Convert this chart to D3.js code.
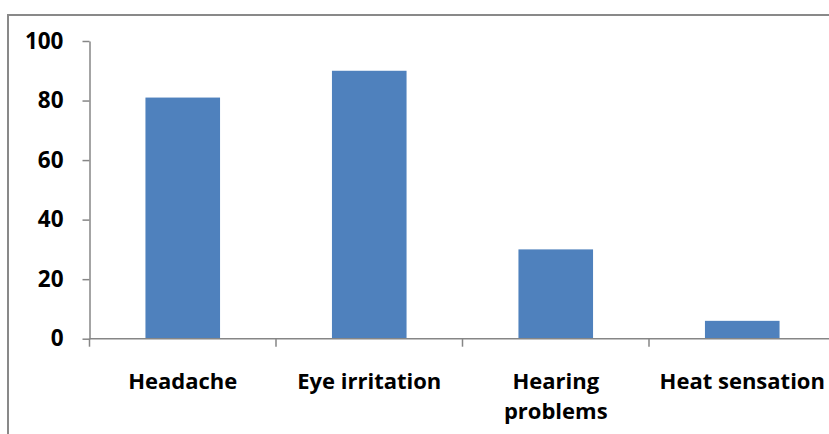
<!DOCTYPE html>
<html>
<head>
<meta charset="utf-8">
<script src="https://cdn.jsdelivr.net/npm/d3@7"></script>
<style>
  html, body { margin: 0; padding: 0; background: #fff; }
  svg { display: block; }
</style>
</head>
<body>
<svg id="chart" width="829" height="434"></svg>
<script>
// Symptom counts
const categories = ["Headache", "Eye irritation", "Hearing problems", "Heat sensation"];
const values = [81, 90, 30, 6];
const yTicks = [0, 20, 40, 60, 80, 100];
// Category labels broken into display lines
const labelLines = [["Headache"], ["Eye irritation"], ["Hearing", "problems"], ["Heat sensation"]];

const svg = d3.select("#chart");
const axisColor = "#868686";
const barColor = "#4f81bd";
const font = "'Open Sans', 'Liberation Sans', sans-serif";

// Outer frame of the chart area
svg.append("rect")
  .attr("x", 8).attr("y", 15)
  .attr("width", 840).attr("height", 440)
  .attr("fill", "none")
  .attr("stroke", "#898989")
  .attr("stroke-width", 2);

const plot = { left: 89.5, right: 835.5, top: 41, bottom: 338.7 };

const x = d3.scaleBand()
  .domain(categories)
  .range([plot.left, plot.right])
  .paddingInner(0.6)
  .paddingOuter(0.3);

const y = d3.scaleLinear()
  .domain([0, 100])
  .range([plot.bottom, plot.top]);

// Bars
svg.append("g")
  .selectAll("rect")
  .data(categories)
  .join("rect")
  .attr("x", d => x(d))
  .attr("y", (d, i) => y(values[i]))
  .attr("width", x.bandwidth())
  .attr("height", (d, i) => y(0) - y(values[i]))
  .attr("fill", barColor);

// Y axis
const yAxis = svg.append("g")
  .attr("transform", `translate(${plot.left},0)`)
  .call(d3.axisLeft(y).tickValues(yTicks).tickSize(7).tickPadding(19).tickSizeOuter(0));
yAxis.select(".domain").attr("stroke", axisColor).attr("stroke-width", 1.5);
yAxis.selectAll(".tick line").attr("stroke", axisColor).attr("stroke-width", 1.5);
yAxis.selectAll(".tick text")
  .attr("font-family", font)
  .attr("font-weight", "bold")
  .attr("font-size", 22.5)
  .attr("fill", "#000");

// X axis baseline with boundary ticks between categories
const step = x.step();
const boundaries = d3.range(categories.length + 1).map(i => plot.left + i * step);
const xAxis = svg.append("g");
xAxis.append("line")
  .attr("x1", plot.left).attr("x2", plot.right)
  .attr("y1", y(0)).attr("y2", y(0))
  .attr("stroke", axisColor).attr("stroke-width", 1.5);
xAxis.selectAll("line.tick")
  .data(boundaries)
  .join("line")
  .attr("class", "tick")
  .attr("x1", d => d).attr("x2", d => d)
  .attr("y1", y(0)).attr("y2", y(0) + 8)
  .attr("stroke", axisColor).attr("stroke-width", 1.5);

// Category labels
const labels = svg.append("g")
  .attr("font-family", font)
  .attr("font-weight", "bold")
  .attr("font-size", 22)
  .attr("fill", "#000")
  .attr("text-anchor", "middle");
labels.selectAll("text")
  .data(categories)
  .join("text")
  .attr("x", d => x(d) + x.bandwidth() / 2)
  .attr("y", 388.5)
  .each(function(d, i) {
    d3.select(this).selectAll("tspan")
      .data(labelLines[i])
      .join("tspan")
      .attr("x", x(d) + x.bandwidth() / 2)
      .attr("dy", (t, j) => j === 0 ? 0 : 30)
      .text(t => t);
  });
</script>
</body>
</html>
